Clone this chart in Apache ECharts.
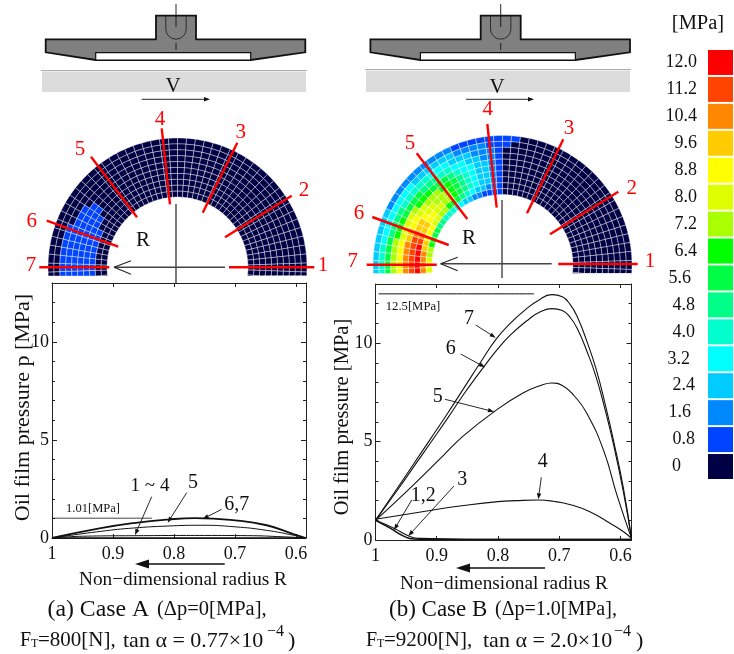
<!DOCTYPE html>
<html><head><meta charset="utf-8">
<style>html,body{margin:0;padding:0;background:#fff}#c{width:734px;height:654px}</style>
<script src="https://cdn.jsdelivr.net/npm/echarts@6/dist/echarts.min.js"></script>
</head><body><div id="c"></div>
<script>
// ---------- data ----------
const pressureLabels = ['12.0','11.2','10.4','9.6','8.8','8.0','7.2','6.4','5.6','4.8','4.0','3.2','2.4','1.6','0.8','0'];
const pressureColors = ['#ff0000','#ff4400','#ff8800','#ffcc00','#ffff00','#ddff00','#aaff00','#00ff00','#00ff44','#00ff88','#00ffcc','#00ffff','#00ccff','#0088ff','#0044ff','#000044'];
const legendLabelNudge = [0,0,0,0,0,0,0,0,6,2,2,7,2,6,2,16];
// sector centre angle (deg) and the level digits, outer ring first; hex digit = level (0 = 0 MPa ... f = 12.0 MPa)
const sectorAngles = [188,184,180,176,172,168,164,160,156,152,148,144,140,136,132,128,124,120,116,112,108,104,100,96,92,88,84,80,76,72,68,64,60,56,52,48,44,40,36,32,28,24,20,16,12,8,4,0,-4,-8];
const caseACells = {188:'0011111100',184:'0011111100',180:'0011111100',176:'0011111100',172:'0011111100',168:'0011111100',164:'0011111100',160:'0011111100',156:'0001111100',152:'0001111000',148:'0001111000',144:'0000110000'};
const caseBCells = {
 188:'3579bdefda',184:'3579bdefda',180:'3579bdefda',176:'3579bdefda',172:'3579bdefd9',168:'3479bdefc9',
 164:'3468aceec8',160:'3468acddb8',156:'3468abccb7',152:'2467abccb7',148:'24579abba6',144:'24578aaba6',
 140:'245789aa95',136:'2356899a95',132:'2356799985',128:'2346789984',124:'2345788874',
 120:'2345677763',116:'2334566653',112:'1234455542',108:'1233444432',104:'1223333331',100:'1222333321',96:'1122222221',
 92:'1111111111',88:'1100000000',84:'1000000000'
};
const ringCount = 10;
const innerR = 0.544;
const xTickValues = [1,0.9,0.8,0.7,0.6];

const caseA_R14 = [[1,0],[0.95,0.09],[0.85,0.12],[0.75,0.13],[0.68,0.12],[0.62,0.06],[0.584,0]];
const caseA_R5  = [[1,0],[0.92,0.34],[0.866,0.51],[0.81,0.61],[0.757,0.65],[0.70,0.57],[0.648,0.39],[0.604,0.14],[0.584,0]];
const caseA_R67 = [[1,0],[0.92,0.5],[0.866,0.76],[0.81,0.94],[0.765,1.01],[0.70,0.9],[0.648,0.65],[0.604,0.2],[0.584,0]];
const caseA_base = [[1,0],[0.584,0]];
const caseA_peakLine = [[1,1.01],[0.836,1.01]];

const caseB_R7 = [[1,1],[0.965,2.6],[0.938,3.85],[0.911,5.1],[0.883,6.4],[0.856,7.7],[0.829,9.0],[0.803,10.2],[0.78,11.0],[0.755,11.7],[0.735,12.15],[0.712,12.46],[0.695,12.35],[0.682,11.95],[0.67,11.3],[0.655,10.1],[0.64,8.7],[0.625,6.9],[0.611,5.0],[0.595,2.6],[0.582,0.08]];
const caseB_R6 = [[1,1],[0.965,2.5],[0.938,3.7],[0.911,4.9],[0.883,6.15],[0.856,7.4],[0.829,8.55],[0.803,9.6],[0.78,10.4],[0.75,11.2],[0.73,11.6],[0.712,11.75],[0.695,11.65],[0.682,11.3],[0.67,10.7],[0.655,9.6],[0.64,8.3],[0.625,6.6],[0.611,4.8],[0.595,2.4],[0.582,0.08]];
const caseB_R5 = [[1,1],[0.965,2.0],[0.938,2.8],[0.889,4.3],[0.856,5.3],[0.807,6.5],[0.76,7.45],[0.73,7.85],[0.712,7.97],[0.695,7.85],[0.675,7.3],[0.655,6.44],[0.627,4.5],[0.606,2.3],[0.582,0.08]];
const caseB_R4 = [[1,1.05],[0.911,1.5],[0.856,1.75],[0.80,1.95],[0.77,2.0],[0.736,2.03],[0.71,1.97],[0.68,1.78],[0.65,1.44],[0.617,0.85],[0.595,0.42],[0.582,0.08]];
const caseB_R3 = [[1,1],[0.97,0.6],[0.943,0.17],[0.927,0.08],[0.85,0.04],[0.582,0.04]];
const caseB_R12 = [[1,1],[0.976,0.6],[0.954,0.2],[0.938,0.05],[0.9,0.02],[0.582,0.02]];
const caseB_peakLine = [[0.995,12.5],[0.741,12.5]];

// ---------- annotation layout ----------
const SERIF = '"Liberation Serif"';
const redLinesA = [[229,267.3,314.3,267.3],[225,237.3,291.7,195.7],[202.7,212.7,237.3,142.7],[170,204.3,161.7,128.3],[137,217.3,91,156.7],[118.3,246.7,46.7,220.7],[109.3,267.3,39.3,267.3]];
const redLinesB = [[558.3,264,637.7,264],[550,234.3,618.3,191.7],[527,213.3,563.3,139.3],[496.7,207.7,487.3,124],[467.3,219,416.7,153.3],[448.7,245,372.3,217],[436.7,264.7,366.7,264.7]];
const redLabels = [['1',323,265],['2',304,190],['3',240.7,132],['4',160,119],['5',80,149],['6',31.7,221],['7',31,265],
                   ['1',650,261],['2',631.7,188],['3',569,128],['4',487.7,109],['5',410,143],['6',359,213],['7',352.7,261]];
const blackTexts = [['R',143,240,21],['R',469,238,21],['V',173,86,21],['V',497,87,21],
  ['1 ~ 4',150,486,19],['5',193,483,20],['6,7',236.7,505,20],
  ['1.01[MPa]',93,509,12.5],['12.5[MPa]',413,306.7,12.7],
  ['7',469,319,20],['6',450.7,349,20],['5',437.7,396.7,20],['4',542.7,461.7,20],['3',462.3,480,20],['1,2',423.3,496,20],
  ['Non\u2212dimensional radius R',183,580,19.3],['Non\u2212dimensional radius R',504,584,19.3],
  ['[MPa]',698,24,20.5]];
const thinArrows = [[151.7,496.7,135,535],[186.7,492.7,167.7,522.7],[221.7,509.3,202.7,519],
  [475.7,325,495.7,337.7],[460.7,354,485,367.3],[445,399.3,494,411.7],[541.3,477.3,538.3,499.3],[454,486,408.3,536],[411.7,500,394,530],
  [141.7,99.3,210,99.3],[466,99.3,534,99.3]];
const bigArrows = [[224.7,564,135,564],[545,568,456,568]];

// ---------- helpers ----------
const g = [];
function txt(s,x,y,size,color,align){g.push({type:'text',z:100,x:x,y:y,style:{text:s,x:0,y:0,fill:color||'#111',font:size+'px '+SERIF,textAlign:align||'center',textVerticalAlign:'middle'}});}
function line(x1,y1,x2,y2,w,col){g.push({type:'line',z:100,shape:{x1,y1,x2,y2},style:{stroke:col||'#111',lineWidth:w||1}});}
function arrow(x1,y1,x2,y2,len,hw,w){
  const a=Math.atan2(y2-y1,x2-x1),c=Math.cos(a),s=Math.sin(a);
  line(x1,y1,x2-c*len*0.7,y2-s*len*0.7,w);
  g.push({type:'polygon',z:100,shape:{points:[[x2,y2],[x2-c*len-s*hw,y2-s*len+c*hw],[x2-c*len+s*hw,y2-s*len-c*hw]]},style:{fill:'#111'}});
}
function pad(dx){
  const poly=[[45.7,39.3],[156,39.3],[156,15.7],[196,15.7],[196,39.3],[305.3,39.3],[305.3,52.3],[250.7,60],[95.7,60],[45.7,52.3]].map(p=>[p[0]+dx,p[1]]);
  g.push({type:'polygon',z:100,shape:{points:poly},style:{fill:'#808080',stroke:'#111',lineWidth:1.8}});
  g.push({type:'rect',z:101,shape:{x:95.7+dx,y:52.7,width:155,height:7.3},style:{fill:'#fff',stroke:'#111',lineWidth:1.2}});
  g.push({type:'arc',z:101,shape:{cx:176+dx,cy:29,r:10.2,startAngle:0,endAngle:Math.PI,clockwise:true},style:{fill:'none',stroke:'#222',lineWidth:0.9}});
  line(165.8+dx,16,165.8+dx,29,0.9,'#222'); line(186.2+dx,16,186.2+dx,29,0.9,'#222');
  line(176+dx,4,176+dx,27,0.9); line(176+dx,43,176+dx,50,0.9);
}
function plate(x,w,y){
  g.push({type:'rect',z:99,shape:{x:x,y:y+1,width:w,height:92-y-1},style:{fill:'#dcdcdc'}});
  line(x-1,y,x+w+1,y,0.8,'#999');
}
function rArrow(x1,xTip,y,head,vx,vy1,vy2){
  line(x1,y,xTip,y,1.5,'#444');
  const d=Math.sign(x1-xTip);
  line(xTip+d*head,y-6.5,xTip,y,1.1,'#222'); line(xTip,y,xTip+d*head,y+7,1.1,'#222');
  line(vx,vy1,vx,vy2,1.4,'#444');
}
pad(0); pad(324.7);
plate(42,264,70.5); plate(366,264,69.5);
rArrow(225,114,267.3,17,176,204,283);
rArrow(551.7,440.7,263.7,17,502,200,278);
redLinesA.concat(redLinesB).forEach(l=>line(l[0],l[1],l[2],l[3],2.4,'#ff0000'));
redLabels.forEach(t=>txt(t[0],t[1],t[2],21,'#ff0000'));
blackTexts.forEach(t=>txt(t[0],t[1],t[2],t[3]));
thinArrows.forEach(a=>arrow(a[0],a[1],a[2],a[3],6,2.2,0.9));
bigArrows.forEach(a=>arrow(a[0],a[1],a[2],a[3],14,4.5,1.6));
// captions
txt('(a) Case A',47.5,610,23.8,null,'left'); txt('(\u0394p=0[MPa],',157,610,20.5,null,'left');
txt('F',20,641,20,null,'left'); txt('T',31,644,12,null,'left'); txt('=800[N],',38,640,21,null,'left');
txt('tan \u03b1 = 0.77\u00d710',123,641,22,null,'left'); txt('\u22124',267,632,16,null,'left'); txt(')',288,641,22,null,'left');
txt('(b) Case B',389,610,23,null,'left'); txt('(\u0394p=1.0[MPa],',495,610,20,null,'left');
txt('F',366,641,20,null,'left'); txt('T',377,644,12,null,'left'); txt('=9200[N],',384,640,21,null,'left');
txt('tan \u03b1 = 2.0\u00d710',483,641,22,null,'left'); txt('\u22124',614,632,16,null,'left'); txt(')',636,641,22,null,'left');

// ---------- options ----------
function cellData(cells){
  const out=[];
  sectorAngles.forEach(a=>{
    const col=cells[a]||'0'.repeat(ringCount);
    for(let j=0;j<ringCount;j++){
      const dr=(1-innerR)/ringCount;
      out.push([1-dr*(j+0.5),a,parseInt(col[j],16)]);
    }
  });
  return out;
}
function ringSeries(polarIndex,cells){
  return {type:'custom',coordinateSystem:'polar',polarIndex,silent:true,z:5,data:cellData(cells),
    encode:{radius:0,angle:1},
    renderItem(params,api){
      const r=api.value(0),a=api.value(1),lv=api.value(2);
      const dr=(1-innerR)/ringCount/2, da=2;
      const floorY=api.coord([1,183.76])[1];
      const pts=[];
      const steps=[-da,-da/2,0,da/2,da];
      steps.forEach(d=>pts.push(api.coord([r+dr,a+d])));
      steps.slice().reverse().forEach(d=>pts.push(api.coord([r-dr,a+d])));
      pts.forEach(p=>{if(p[1]>floorY)p[1]=floorY;});
      return {type:'polygon',shape:{points:pts},style:{fill:pressureColors[15-lv],stroke:'rgba(255,255,255,0.5)',lineWidth:0.8}};
    }};
}
function xAxes(grid,minX){
  const base={type:'value',gridIndex:grid,min:minX,max:1,inverse:true,splitLine:{show:false},
    axisLine:{show:true,onZero:false,lineStyle:{color:'#222',width:1}}};
  return [
    Object.assign({},base,{position:'bottom',axisTick:{inside:true,length:4,lineStyle:{color:'#222'},customValues:xTickValues},
      axisLabel:{customValues:xTickValues,margin:7,color:'#111',fontFamily:SERIF,fontSize:18}}),
    Object.assign({},base,{position:'top',axisTick:{inside:true,length:4,lineStyle:{color:'#222'},customValues:xTickValues},axisLabel:{show:false}})
  ];
}
function yAxes(grid,name,labelled,gap,fs,namePad){
  const base={type:'value',gridIndex:grid,min:0,max:13,interval:5,splitLine:{show:false},
    axisLine:{show:true,onZero:false,lineStyle:{color:'#222',width:1}},
    axisTick:{inside:true,length:5,lineStyle:{color:'#222'}},
    minorTick:{show:true,splitNumber:5,length:3,lineStyle:{color:'#222'}}};
  return [
    Object.assign({},base,{position:'left',name:name,nameLocation:'middle',nameGap:gap,nameRotate:90,nameMoveOverlap:false,
      nameTextStyle:{fontFamily:SERIF,fontSize:fs,color:'#111',padding:namePad},
      axisLabel:{margin:3,color:'#111',fontFamily:SERIF,fontSize:18,formatter:v=>labelled.includes(v)?String(v):''}}),
    Object.assign({},base,{position:'right',axisLabel:{show:false}})
  ];
}
function curve(data,xi,yi,w){
  return {type:'line',data:data,xAxisIndex:xi,yAxisIndex:yi,smooth:0.5,symbol:'none',silent:true,z:3,
    lineStyle:{color:'#111',width:w||1.1}};
}
const legendRich={};
legendLabelNudge.forEach((n,i)=>{legendRich['p'+i]={fontFamily:SERIF,fontSize:18,color:'#111',padding:[0,n,0,0]};});
const option={
  animation:false,backgroundColor:'#fff',
  grid:[{left:52,top:283,width:254,height:255},{left:375.5,top:284,width:256,height:256},{left:708,top:49,width:25,height:431}],
  polar:[{center:[177.5,267.5],radius:[0,129.5]},{center:[502.5,265],radius:[0,129.5]}],
  angleAxis:[0,1].map(i=>({polarIndex:i,type:'value',min:0,max:360,startAngle:0,clockwise:false,show:false})),
  radiusAxis:[0,1].map(i=>({polarIndex:i,type:'value',min:0,max:1,show:false})),
  xAxis:[...xAxes(0,0.5836),...xAxes(1,0.582),{type:'value',gridIndex:2,min:0,max:1,show:false}],
  yAxis:[...yAxes(0,'Oil film pressure p [MPa]',[0,5,10],18,22,[0,0,0,6]),...yAxes(1,'Oil film pressure [MPa]',[0,5,10],22,20.5,[0,10,0,0]),
    {type:'category',gridIndex:2,inverse:true,data:pressureLabels,axisLine:{show:false},axisTick:{show:false},
     axisLabel:{margin:11,formatter:(v,i)=>'{p'+i+'|'+v+'}',rich:legendRich}}],
  series:[
    ringSeries(0,caseACells),ringSeries(1,caseBCells),
    curve(caseA_base,0,0,1.6),curve(caseA_R14,0,0,1),curve(caseA_R5,0,0,1),curve(caseA_R67,0,0,1.8),curve(caseA_peakLine,0,0,0.8),
    curve(caseB_R7,2,2),curve(caseB_R6,2,2),curve(caseB_R5,2,2),curve(caseB_R4,2,2),curve(caseB_R3,2,2),curve(caseB_R12,2,2,1.5),curve(caseB_peakLine,2,2,1),
    {type:'bar',xAxisIndex:4,yAxisIndex:4,barWidth:25,silent:true,data:pressureColors.map(c=>({value:1,itemStyle:{color:c}}))}
  ],
  graphic:{elements:g}
};
echarts.init(document.getElementById('c')).setOption(option);
</script></body></html>
